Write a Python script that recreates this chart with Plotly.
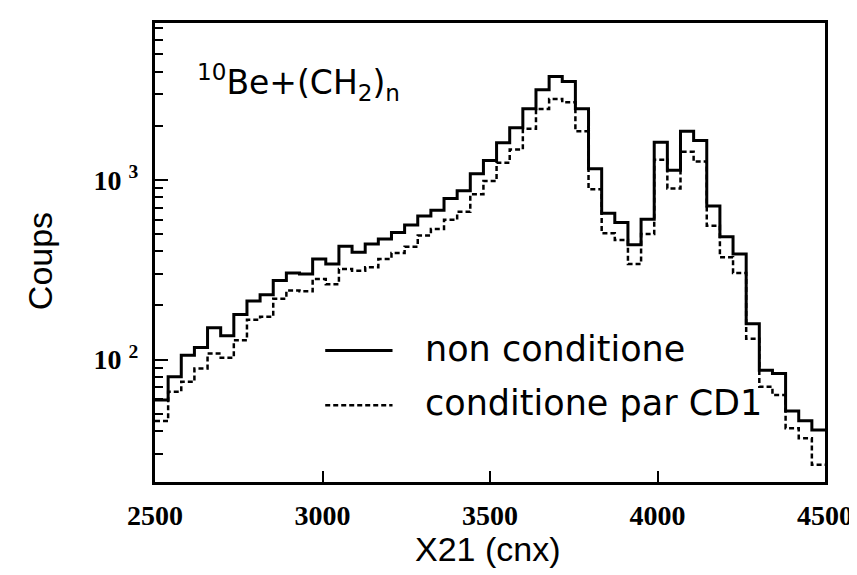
import numpy as np
import plotly.graph_objects as go

# ---- data ----
x_min = 2500
x_max = 4500
n_bins = 51

counts_non_conditionne = [
    59.5, 80.2, 105.6, 116.5, 150.4, 135.8, 178.2, 211.4, 229.1, 275,
    303.4, 299.5, 362.6, 340.2, 426.6, 395.1, 439.3, 468.2, 510, 559.7,
    630, 677.6, 786.9, 869, 1082, 1282, 1607, 1946, 2489, 3172,
    3759, 3527, 2489, 1153, 652, 579, 435, 604, 1620, 1129,
    1864, 1655, 716, 482, 387, 158.2, 87.2, 83.6, 51.7, 45.7,
    40.6,
]
counts_conditionne_cd1 = [
    45.5, 66.2, 75.2, 89.2, 107.9, 102.2, 127.9, 166.5, 173, 217.8,
    242, 239.6, 281, 262, 319.3, 312.4, 326.3, 362.6, 391.6, 423.8,
    490.6, 531.8, 598.8, 663.4, 831, 985, 1245, 1476, 1922, 2480,
    2818, 2698, 1864, 886, 505, 462, 340, 499, 1294, 895,
    1435, 1263, 555, 371, 303, 130.7, 70.6, 63.4, 41.5, 36.5,
    26,
]
series_names = ["non conditione", "conditione par CD1"]
x_tick_vals = [2500, 3000, 3500, 4000, 4500]
y_major_vals = [100, 1000]
y_major_text = ["10 <sup>2</sup>", "10 <sup>3</sup>"]
y_minor_vals = [30, 40, 50, 60, 70, 80, 90, 200, 300, 400, 500, 600, 700,
                800, 900, 2000, 3000, 4000, 5000, 6000, 7000]

edges = np.linspace(x_min, x_max, n_bins + 1)


def step_xy(counts):
    xs = list(edges)
    ys = list(counts) + [counts[-1]]
    return xs, ys


fig = go.Figure()
xs, ys = step_xy(counts_non_conditionne)
fig.add_trace(go.Scatter(x=xs, y=ys, mode="lines", line_shape="hv",
                         name=series_names[0], showlegend=False,
                         line=dict(color="black", width=3)))
xs, ys = step_xy(counts_conditionne_cd1)
fig.add_trace(go.Scatter(x=xs, y=ys, mode="lines", line_shape="hv",
                         name=series_names[1], showlegend=False,
                         line=dict(color="black", width=2.5, dash="5px,3px")))

W, H = 857, 575
L, R, T, B = 147, 33, 13, 101
pw, ph = W - L - R, H - T - B


def px(x):
    return (x - L) / pw


def py(y):
    return (H - B - y) / ph


fig.update_layout(
    width=W, height=H,
    margin=dict(l=L, r=R, t=T, b=B),
    paper_bgcolor="white", plot_bgcolor="white",
    font=dict(color="black"),
)
fig.update_xaxes(
    range=[x_min, x_max], tickvals=x_tick_vals,
    ticks="inside", ticklen=11, tickwidth=2, tickcolor="black",
    showline=True, linewidth=3, linecolor="black", mirror=True,
    showgrid=False, zeroline=False,
    tickfont=dict(family="Liberation Serif", size=28, weight="bold"),
    ticklabelstandoff=6,
)
fig.update_yaxes(
    type="log", range=[1.3186, 3.8726],
    tickvals=y_major_vals, ticktext=y_major_text,
    ticks="inside", ticklen=13, tickwidth=2, tickcolor="black",
    minor=dict(tickvals=y_minor_vals, ticks="inside", ticklen=8,
               tickwidth=2, tickcolor="black", showgrid=False),
    showline=True, linewidth=3, linecolor="black", mirror=True,
    showgrid=False, zeroline=False,
    tickfont=dict(family="Liberation Serif", size=28, weight="bold"),
    ticklabelstandoff=8,
)

text_font = dict(family="DejaVu Sans", size=35, color="black")
fig.add_annotation(x=px(187), y=py(73), xref="paper", yref="paper",
                   text="<sup>10</sup>Be+(CH<sub>2</sub>)<sub>n</sub>",
                   showarrow=False, xanchor="left", yanchor="middle",
                   font=dict(family="DejaVu Sans", size=33, color="black"))
fig.add_annotation(x=px(418), y=py(340), xref="paper", yref="paper",
                   text=series_names[0], showarrow=False,
                   xanchor="left", yanchor="middle", font=text_font)
fig.add_annotation(x=px(418), y=py(395), xref="paper", yref="paper",
                   text=series_names[1], showarrow=False,
                   xanchor="left", yanchor="middle", font=text_font)
fig.add_shape(type="line", xref="paper", yref="paper",
              x0=px(319), x1=px(387), y0=py(342), y1=py(342),
              line=dict(color="black", width=3))
fig.add_shape(type="line", xref="paper", yref="paper",
              x0=px(319), x1=px(387), y0=py(397), y1=py(397),
              line=dict(color="black", width=2.5, dash="5px,3px"))
fig.add_annotation(x=px(483), y=py(541), xref="paper", yref="paper",
                   text="X21 (cnx)", showarrow=False,
                   xanchor="center", yanchor="middle",
                   font=dict(family="Liberation Sans", size=34, color="black"))
fig.add_annotation(x=px(31), y=py(252), xref="paper", yref="paper",
                   text="Coups", showarrow=False, textangle=-90,
                   xanchor="center", yanchor="middle",
                   font=dict(family="Liberation Sans", size=34, color="black"))

fig.write_html("out.html")
